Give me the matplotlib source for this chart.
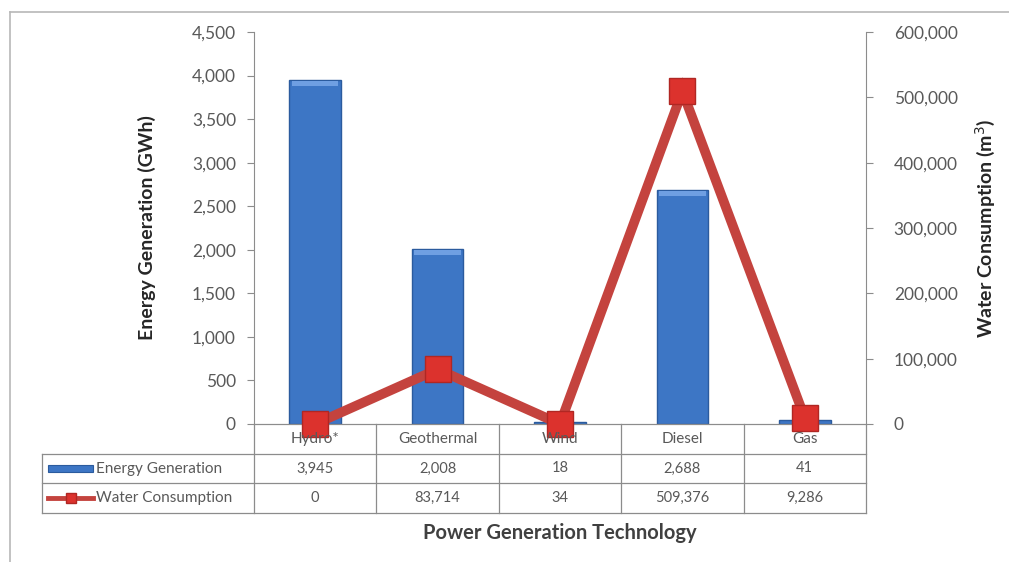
"""Energy generation vs water consumption by power generation technology."""

import matplotlib

matplotlib.use("Agg")
import matplotlib.pyplot as plt
from matplotlib.lines import Line2D
from matplotlib.patches import Rectangle
from matplotlib.ticker import FuncFormatter, MultipleLocator
from matplotlib.transforms import blended_transform_factory

technologies = ["Hydro*", "Geothermal", "Wind", "Diesel", "Gas"]
energy_gwh = [3945, 2008, 18, 2688, 41]
water_m3 = [0, 83714, 34, 509376, 9286]
energy_labels = ["3,945", "2,008", "18", "2,688", "41"]
water_labels = ["0", "83,714", "34", "509,376", "9,286"]

W, H = 1009, 562
BAR_COLOR = "#3d76c5"
BAR_EDGE = "#2b5b9e"
LINE_COLOR = "#c4433e"
MARKER_COLOR = "#dc322d"
GRID_GRAY = "#8c8c8c"
TEXT_GRAY = "#595959"

plt.rcParams["font.family"] = ["Lato", "DejaVu Sans"]


def fx(px: float) -> float:
    return px / W


def fy(py: float) -> float:
    return 1 - py / H


fig = plt.figure(figsize=(W / 100, H / 100), dpi=100)
ax = fig.add_axes([fx(254), fy(424), fx(866) - fx(254), fy(32) - fy(424)])
ax2 = ax.twinx()

x = list(range(len(technologies)))
ax.bar(x, energy_gwh, width=0.42, color=BAR_COLOR, edgecolor=BAR_EDGE,
       linewidth=1.0, zorder=2)
# lighter bevel on top of the taller bars
for xi, val in zip(x, energy_gwh):
    if val > 300:
        ax.add_patch(Rectangle((xi - 0.19, val - 70), 0.38, 60, color="#6f9fe2",
                               linewidth=0, zorder=3))

ax.set_xlim(-0.5, len(technologies) - 0.5)
ax.set_ylim(0, 4500)
ax.yaxis.set_major_locator(MultipleLocator(500))
ax.yaxis.set_major_formatter(FuncFormatter(lambda v, _: f"{v:,.0f}"))
ax.set_xticks([])

ax2.plot(x, water_m3, color=LINE_COLOR, linewidth=7, zorder=5,
         solid_joinstyle="miter")
ax2.plot(x, water_m3, linestyle="none", marker="s", markersize=19,
         markerfacecolor=MARKER_COLOR, markeredgecolor="#b02723",
         markeredgewidth=1.0, zorder=6, clip_on=False)
ax2.set_ylim(0, 600000)
ax2.yaxis.set_major_locator(MultipleLocator(100000))
ax2.yaxis.set_major_formatter(FuncFormatter(lambda v, _: f"{v:,.0f}"))

for a in (ax, ax2):
    a.spines["top"].set_visible(False)
    a.spines["left"].set_color(GRID_GRAY)
    a.spines["right"].set_color(GRID_GRAY)
    a.spines["bottom"].set_color(GRID_GRAY)
    a.tick_params(axis="y", colors=GRID_GRAY, labelcolor=TEXT_GRAY,
                  labelsize=12.5, length=5, width=0.8)
ax.tick_params(axis="y", pad=8)
ax2.tick_params(axis="y", pad=15)
ax.spines["right"].set_visible(False)
ax2.spines["left"].set_visible(False)
ax.set_zorder(ax2.get_zorder() - 1)
ax.patch.set_visible(False)
ax2.patch.set_visible(False)

ax.set_ylabel("Energy Generation (GWh)", fontsize=14, fontweight="bold",
              color="#262626")
ax.yaxis.set_label_coords((156 - 254) / (866 - 254), 0.5)
ax2.set_ylabel("Water Consumption (m$^3$)", fontsize=14, fontweight="bold",
               color="#262626", rotation=90)
ax2.yaxis.set_label_coords((973 - 254) / (866 - 254), 0.5)

# data table below the axes
rows = [424, 454, 483, 513]
tr = blended_transform_factory(ax.transData, fig.transFigure)
tf = fig.transFigure
for py in rows[1:]:
    fig.add_artist(Line2D([fx(42), fx(866)], [fy(py), fy(py)], color=GRID_GRAY,
                          linewidth=0.9, transform=tf))
fig.add_artist(Line2D([fx(42), fx(42)], [fy(rows[1]), fy(rows[3])],
                      color=GRID_GRAY, linewidth=0.9, transform=tf))
for k in range(len(technologies) + 1):
    fig.add_artist(Line2D([k - 0.5, k - 0.5], [fy(rows[0]), fy(rows[3])],
                          color=GRID_GRAY, linewidth=0.9, transform=tr))

for xi, name, e_lab, w_lab in zip(x, technologies, energy_labels, water_labels):
    fig.text(xi, fy((rows[0] + rows[1]) / 2), name, transform=tr, ha="center",
             va="center", fontsize=11, color=TEXT_GRAY, zorder=1)
    fig.text(xi, fy((rows[1] + rows[2]) / 2), e_lab, transform=tr, ha="center",
             va="center", fontsize=10.5, color=TEXT_GRAY)
    fig.text(xi, fy((rows[2] + rows[3]) / 2), w_lab, transform=tr, ha="center",
             va="center", fontsize=10.5, color=TEXT_GRAY)

# row labels with legend keys
y1 = (rows[1] + rows[2]) / 2
y2 = (rows[2] + rows[3]) / 2
fig.add_artist(Rectangle((fx(48), fy(y1 + 3)), fx(93) - fx(48), fy(y1 - 3) - fy(y1 + 3),
                         facecolor=BAR_COLOR, edgecolor=BAR_EDGE, linewidth=0.8,
                         transform=tf))
fig.add_artist(Line2D([fx(48), fx(93)], [fy(y2), fy(y2)], color=LINE_COLOR,
                      linewidth=3.5, transform=tf))
fig.add_artist(Line2D([fx(70.5)], [fy(y2)], marker="s", markersize=7,
                      markerfacecolor=MARKER_COLOR, markeredgecolor="#b02723",
                      transform=tf))
fig.text(fx(96), fy(y1), "Energy Generation", ha="left", va="center",
         fontsize=11, color=TEXT_GRAY)
fig.text(fx(96), fy(y2), "Water Consumption", ha="left", va="center",
         fontsize=11, color=TEXT_GRAY)

fig.text(fx(560), fy(533), "Power Generation Technology", ha="center",
         va="center", fontsize=14.5, fontweight="bold", color="#404040")

# outer chart frame (top and left edges visible)
fig.add_artist(Line2D([fx(10), 1.0], [fy(12), fy(12)], color="#b8b8b8",
                      linewidth=1.2, transform=tf))
fig.add_artist(Line2D([fx(10), fx(10)], [fy(12), 0.0], color="#b8b8b8",
                      linewidth=1.2, transform=tf))

fig.savefig("out.png", dpi=100, facecolor="white")
